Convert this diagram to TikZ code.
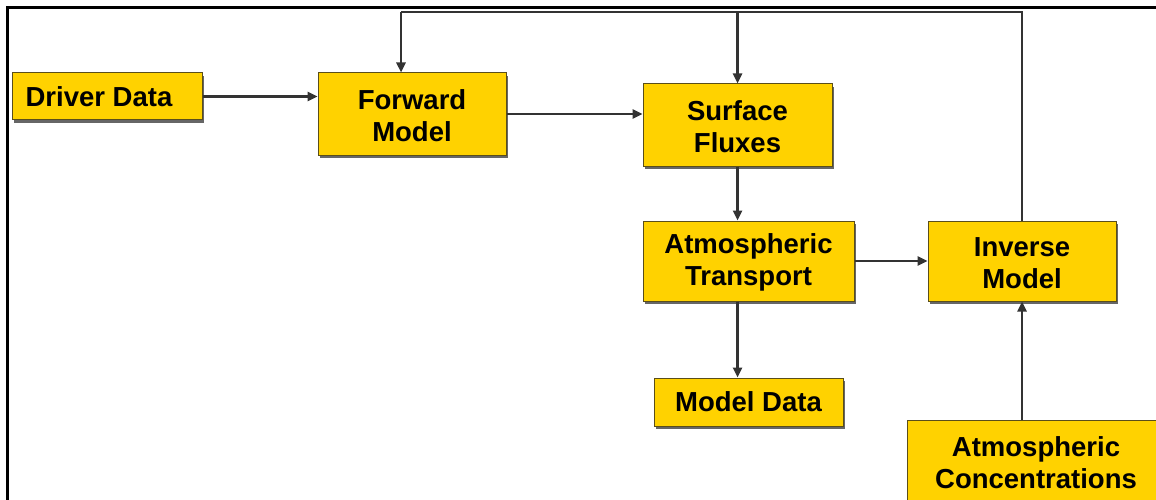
\documentclass[tikz,border=0pt]{standalone}
\usepackage{fontspec}
\setmainfont{Liberation Sans}
\usetikzlibrary{arrows.meta,shadows}
\definecolor{gold}{HTML}{FFD200}
\definecolor{boxedge}{HTML}{5A4E1A}
\definecolor{conncol}{HTML}{333333}
\begin{document}
\begin{tikzpicture}[x=1pt,y=-1pt,
  box/.style={draw=boxedge, line width=1pt, fill=gold, inner sep=0pt, align=center,
    font=\fontsize{27.5}{32}\selectfont\bfseries,
    drop shadow={shadow xshift=1.5pt, shadow yshift=-3pt, fill=black!60, opacity=1}},
  link/.style={draw=conncol, line width=2.4pt},
  arr/.style={link, -{Triangle[length=10pt,width=9pt]}}]
\useasboundingbox (0,0) rectangle (1156,500);
\clip (0,0) rectangle (1156,500);
\fill[white] (0,0) rectangle (1156,500);
% frame
\draw[line width=3pt, black] (7,502) -- (7,8) -- (1158,8);
% boxes
\node[box, minimum width=190pt, minimum height=47pt] (dd) at (107,96.5) {Driver Data\hspace{16pt}};
\node[box, minimum width=188pt, minimum height=82pt] (fwd) at (412,114) {\strut Forward\\Model};
\node[box, minimum width=189pt, minimum height=82pt] (sf) at (737.5,125) {\strut Surface\\Fluxes};
\node[box, minimum width=211pt, minimum height=80pt] (at) at (748.5,261) {\strut Atmospheric\\Transport};
\node[box, minimum width=188pt, minimum height=80pt] (inv) at (1022,261) {\strut Inverse\\Model};
\node[box, minimum width=189pt, minimum height=48pt] (md) at (748.5,402) {Model Data};
\node[box, minimum width=258pt, minimum height=86pt] (ac) at (1036,463) {Atmospheric\\Concentrations};
% connectors
\coordinate (tr) at (1022,12);
\coordinate (tl) at (401,12);
\draw[link] (inv.north) -- (tr) -- (tl);
\draw[arr] (tl) -- (tl |- fwd.north);
\draw[arr] (sf.north |- tr) -- (sf.north);
\draw[arr] (dd.east) -- (fwd.west |- dd.east);
\draw[arr] (fwd.east) -- (sf.west |- fwd.east);
\draw[arr] (sf.south) -- (sf.south |- at.north);
\draw[arr] (at.east) -- (inv.west);
\draw[arr] (sf.south |- at.south) -- (sf.south |- md.north);
\draw[arr] (inv.south |- ac.north) -- (inv.south);
\end{tikzpicture}
\end{document}
